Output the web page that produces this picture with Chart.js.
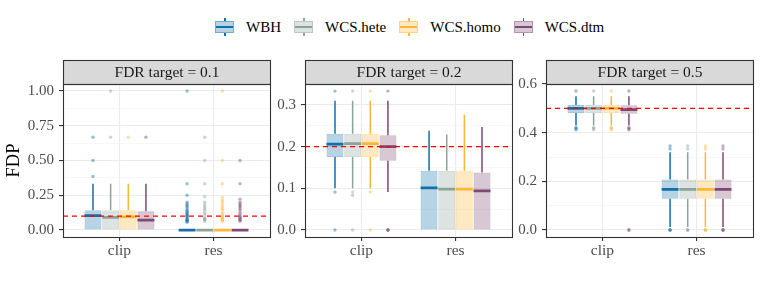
<!DOCTYPE html>
<html>
<head>
<meta charset="utf-8">
<script src="https://cdn.jsdelivr.net/npm/chart.js@4.4.0/dist/chart.umd.min.js"></script>
<style>
  body { margin: 0; width: 761px; height: 286px; background: #fff; position: relative; overflow: hidden; font-family: "Liberation Serif", serif; }
  canvas { position: absolute; top: 0; }
  #legend { position: absolute; left: 215px; top: 18px; height: 18px; display: flex; align-items: center; }
  .item { display: flex; align-items: center; margin-right: 13px; font-size: 15px; color: #000; white-space: nowrap; }
  .key { position: relative; width: 19px; height: 18px; margin-right: 12px; }
  .key .box { position: absolute; left: 0; top: 3px; width: 17px; height: 10px; border: 1px solid; }
  .key .wt, .key .wb { position: absolute; left: 9px; width: 1.5px; height: 3px; }
  .key .wt { top: 0; }
  .key .wb { top: 15px; }
  .key .med { position: absolute; left: 1px; top: 7.5px; width: 17px; height: 2.6px; }
</style>
</head>
<body>
<div id="legend"></div>
<canvas id="p1" width="276" height="286" style="left:0px"></canvas>
<canvas id="p2" width="246" height="286" style="left:272px"></canvas>
<canvas id="p3" width="243" height="286" style="left:518px"></canvas>
<script>
// categories and groups
const categories = ["clip", "res"];
const methods = ["WBH", "WCS.hete", "WCS.homo", "WCS.dtm"];
const colors = ["#1170AA", "#8BA398", "#FFB637", "#7C4A72"];
const targets = [0.1, 0.2, 0.5];

// FDR target = 0.1  (rows: clip, res; columns: methods)
const q1_01  = [[0, 0, 0, 0], [0, 0, 0, 0]];
const med_01 = [[0.103, 0.091, 0.094, 0.071], [0, 0, 0, 0]];
const q3_01  = [[0.143, 0.143, 0.143, 0.136], [0, 0, 0, 0]];
const lo_01  = [[0, 0, 0, 0], [0, 0, 0, 0]];
const hi_01  = [[0.333, 0.333, 0.333, 0.333], [0, 0, 0, 0]];
const out_01 = [
  [[0.385, 0.5, 0.667], [0.667, 1], [0.667], [0.667]],
  [
    [1, 0.333, 0.25, 0.2, 0.188, 0.176, 0.167, 0.154, 0.143, 0.133, 0.125, 0.118, 0.111, 0.105, 0.1, 0.091, 0.083, 0.077, 0.071, 0.067, 0.0625, 0.0556],
    [0.667, 0.5, 0.333, 0.24, 0.2, 0.182, 0.167, 0.154, 0.143, 0.125, 0.111, 0.091, 0.083, 0.077, 0.071, 0.0625],
    [1, 0.5, 0.333, 0.235, 0.214, 0.2, 0.182, 0.167, 0.154, 0.143, 0.125, 0.111, 0.1, 0.091, 0.083, 0.077, 0.071, 0.0625],
    [0.5, 0.333, 0.222, 0.2, 0.188, 0.176, 0.167, 0.154, 0.143, 0.125, 0.111, 0.1, 0.091, 0.083, 0.077, 0.071, 0.0625]
  ]
];

// FDR target = 0.2
const q1_02  = [[0.175, 0.175, 0.175, 0.166], [0, 0, 0, 0]];
const med_02 = [[0.206, 0.207, 0.207, 0.2], [0.101, 0.098, 0.098, 0.094]];
const q3_02  = [[0.231, 0.231, 0.231, 0.227], [0.142, 0.142, 0.142, 0.138]];
const lo_02  = [[0.1, 0.1, 0.1, 0.0909], [0, 0, 0, 0]];
const hi_02  = [[0.31, 0.31, 0.31, 0.31], [0.238, 0.229, 0.277, 0.247]];
const out_02 = [
  [[0.333, 0.0909, 0], [0.333, 0.0909, 0.0833, 0], [0.333, 0.0909, 0], [0.333, 0, 0, 0]],
  [[], [], [], []]
];

// FDR target = 0.5
const q1_05  = [[0.481, 0.481, 0.481, 0.478], [0.129, 0.129, 0.129, 0.129]];
const med_05 = [[0.5, 0.5, 0.5, 0.495], [0.167, 0.167, 0.167, 0.167]];
const q3_05  = [[0.514, 0.514, 0.514, 0.513], [0.208, 0.208, 0.208, 0.208]];
const lo_05  = [[0.43, 0.43, 0.43, 0.43], [0.0125, 0.0125, 0.0125, 0.0125]];
const hi_05  = [[0.55, 0.55, 0.55, 0.55], [0.32, 0.32, 0.32, 0.32]];
const out_05 = [
  [[0.571, 0.421, 0.417, 0.412], [0.571, 0.421, 0.417, 0.412], [0.571, 0.421, 0.417, 0.412], [0.571, 0.421, 0.417, 0.412, 0, 0]],
  [[0.345, 0.333, 0, 0, 0], [0.345, 0.333, 0, 0, 0], [0.345, 0.333, 0, 0, 0], [0.345, 0.333, 0, 0, 0]]
];

// axis ticks
const yMajor_01 = [0, 0.25, 0.5, 0.75, 1];
const yMinor_01 = [0.125, 0.375, 0.625, 0.875];
const yLabels_01 = ["0.00", "0.25", "0.50", "0.75", "1.00"];
const yMajor_02 = [0, 0.1, 0.2, 0.3];
const yMinor_02 = [0.05, 0.15, 0.25];
const yLabels_02 = ["0.0", "0.1", "0.2", "0.3"];
const yMajor_05 = [0, 0.2, 0.4, 0.6];
const yMinor_05 = [0.1, 0.3, 0.5];
const yLabels_05 = ["0.0", "0.2", "0.4", "0.6"];

const dodge = [-0.28125, -0.09375, 0.09375, 0.28125];
const xMin = 0.4, xMax = 2.6;
const boxHalf = 0.09;
const serif = '"Liberation Serif", "Times New Roman", serif';

function rgba(hex, a) {
  const n = parseInt(hex.slice(1), 16);
  return `rgba(${(n >> 16) & 255},${(n >> 8) & 255},${n & 255},${a})`;
}
const near = (arr, v) => arr.some(t => Math.abs(t - v) < 1e-9);

// legend
const legend = document.getElementById("legend");
methods.forEach((m, j) => {
  const it = document.createElement("div");
  it.className = "item";
  it.innerHTML = `<div class="key"><div class="wt" style="background:${colors[j]}"></div>` +
    `<div class="box" style="background:${rgba(colors[j], 0.3)};border-color:${rgba(colors[j], 0.4)}"></div>` +
    `<div class="med" style="background:${colors[j]}"></div>` +
    `<div class="wb" style="background:${colors[j]}"></div></div><span>${m}</span>`;
  legend.appendChild(it);
});

// strip + panel border
const panelFrame = {
  id: "panelFrame",
  afterDraw(chart, args, opts) {
    const { ctx, chartArea: a } = chart;
    const l = Math.round(a.left) + 0.5, r = Math.round(a.right) + 0.5;
    const t = Math.round(a.top) + 0.5, b = Math.round(a.bottom) + 0.5;
    ctx.save();
    ctx.fillStyle = "#D9D9D9";
    ctx.fillRect(l, t - 24, r - l, 24);
    ctx.strokeStyle = "#333333";
    ctx.lineWidth = 1.1;
    ctx.strokeRect(l, t - 24, r - l, 24);
    ctx.strokeRect(l, t, r - l, b - t);
    ctx.fillStyle = "#1A1A1A";
    ctx.font = "15.5px " + serif;
    ctx.textAlign = "center";
    ctx.textBaseline = "middle";
    ctx.fillText(opts.text, (l + r) / 2, t - 11.5);
    ctx.restore();
  }
};

function buildPanel(id, p) {
  const datasets = [];
  methods.forEach((m, j) => {
    const box = [], whisk = [], med = [], pts = [];
    categories.forEach((c, i) => {
      const x = i + 1 + dodge[j];
      box.push({ x: x, y: [p.q1[i][j], p.q3[i][j]] });
      whisk.push({ x: x, y: p.lo[i][j] }, { x: x, y: p.q1[i][j] }, { x: x, y: null },
                 { x: x, y: p.q3[i][j] }, { x: x, y: p.hi[i][j] }, { x: x, y: null });
      med.push({ x: x - boxHalf, y: p.med[i][j] }, { x: x + boxHalf, y: p.med[i][j] }, { x: x + boxHalf, y: null });
      p.out[i][j].forEach(v => pts.push({ x: x, y: v }));
    });
    datasets.push({
      type: "bar", label: m, data: box, grouped: false,
      barPercentage: 0.96, categoryPercentage: 1,
      backgroundColor: rgba(colors[j], 0.3), borderColor: rgba(colors[j], 0.4),
      borderWidth: 1, borderSkipped: false, order: 4
    });
    datasets.push({
      type: "line", data: whisk, borderColor: colors[j], borderWidth: 1.5,
      pointRadius: 0, spanGaps: false, order: 3
    });
    datasets.push({
      type: "line", data: med, borderColor: colors[j], borderWidth: 2.8,
      pointRadius: 0, spanGaps: false, order: 2
    });
    datasets.push({
      type: "scatter", data: pts, backgroundColor: rgba(colors[j], 0.45),
      borderWidth: 0, pointRadius: 1.7, order: 1
    });
  });
  datasets.push({
    type: "line", data: [{ x: xMin, y: p.target }, { x: xMax, y: p.target }],
    borderColor: "#FF0000", borderWidth: 1.3, borderDash: [5, 4], pointRadius: 0, order: 0
  });

  new Chart(document.getElementById(id), {
    type: "bar",
    data: { datasets },
    options: {
      responsive: false,
      animation: false,
      devicePixelRatio: 1,
      layout: { padding: { top: 84, right: p.padRight, bottom: 0, left: 0 } },
      plugins: {
        legend: { display: false },
        tooltip: { enabled: false },
        panelFrame: { text: "FDR target = " + p.target }
      },
      scales: {
        x: {
          type: "linear", min: xMin, max: xMax, offset: false,
          afterBuildTicks: s => { s.ticks = categories.map((c, i) => ({ value: i + 1 })); },
          afterFit: s => { s.height = 49; },
          ticks: {
            autoSkip: false, maxRotation: 0, padding: 1,
            color: "#4D4D4D", font: { family: serif, size: 15.5 },
            callback: v => categories[Math.round(v) - 1]
          },
          grid: { offset: false, color: "#EBEBEB", lineWidth: 1.1, tickColor: "#333333", tickLength: 4 },
          border: { display: false }
        },
        y: {
          type: "linear", min: p.yMin, max: p.yMax,
          afterBuildTicks: s => {
            s.ticks = p.major.concat(p.minor).sort((a, b) => a - b).map(v => ({ value: v }));
          },
          afterFit: s => { s.width = p.axisWidth; },
          title: {
            display: p.showTitle, text: "FDP", color: "#000",
            font: { family: serif, size: 18.5 }, padding: { top: 3, bottom: 0 }
          },
          ticks: {
            autoSkip: false, padding: 5,
            color: "#4D4D4D", font: { family: serif, size: 15 },
            callback: v => {
              const k = p.major.findIndex(t => Math.abs(t - v) < 1e-9);
              return k >= 0 ? p.labels[k] : "";
            }
          },
          grid: {
            color: ctx => (ctx.tick && near(p.major, ctx.tick.value)) ? "#EBEBEB" : "#F3F3F3",
            lineWidth: ctx => (ctx.tick && near(p.major, ctx.tick.value)) ? 1.1 : 0.7,
            tickColor: ctx => (ctx.tick && near(p.major, ctx.tick.value)) ? "#333333" : "rgba(0,0,0,0)",
            tickLength: 4
          },
          border: { display: false }
        }
      }
    },
    plugins: [panelFrame]
  });
}

buildPanel("p1", {
  target: targets[0], q1: q1_01, med: med_01, q3: q3_01, lo: lo_01, hi: hi_01, out: out_01,
  major: yMajor_01, minor: yMinor_01, labels: yLabels_01, yMin: -0.05, yMax: 1.05,
  axisWidth: 63, padRight: 6, showTitle: true
});
buildPanel("p2", {
  target: targets[1], q1: q1_02, med: med_02, q3: q3_02, lo: lo_02, hi: hi_02, out: out_02,
  major: yMajor_02, minor: yMinor_02, labels: yLabels_02, yMin: -0.0167, yMax: 0.35,
  axisWidth: 33, padRight: 6, showTitle: false
});
buildPanel("p3", {
  target: targets[2], q1: q1_05, med: med_05, q3: q3_05, lo: lo_05, hi: hi_05, out: out_05,
  major: yMajor_05, minor: yMinor_05, labels: yLabels_05, yMin: -0.0286, yMax: 0.6,
  axisWidth: 28, padRight: 8, showTitle: false
});
</script>
</body>
</html>
